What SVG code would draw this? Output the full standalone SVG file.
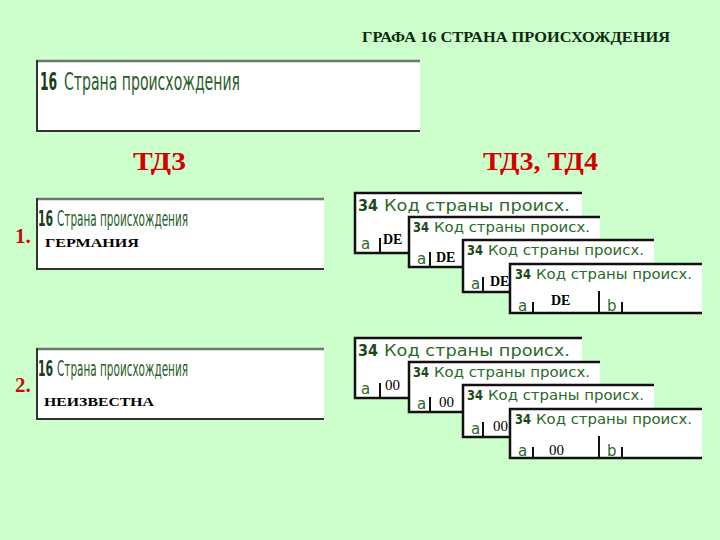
<svg xmlns="http://www.w3.org/2000/svg" width="720" height="540" viewBox="0 0 720 540">
<style>
.bg{fill:#ccffcc}
.title{font-family:"Liberation Serif",serif;font-weight:bold;font-size:14px;fill:#0a2a0a}
.td{font-family:"Liberation Serif",serif;font-weight:bold;font-size:26px;fill:#d40000}
.num{font-family:"Liberation Serif",serif;font-weight:bold;font-size:21px;fill:#c01010}
.lbl{font-family:"DejaVu Sans Condensed","Liberation Sans",sans-serif;fill:#2a5e2a}
.lblb{font-family:"DejaVu Sans Condensed","Liberation Sans",sans-serif;font-weight:bold;fill:#184018}
.val{font-family:"Liberation Serif",serif;font-weight:bold;font-size:13px;fill:#000}
.bigbox{fill:#fff}
.bord{fill:none;stroke:#333;stroke-width:2}
.topb{stroke:#6a7a6a;stroke-width:2.5}
.card{fill:#fff}
.cb{fill:none;stroke:#111;stroke-width:2.5}
.tick{stroke:#111;stroke-width:2}
.c34{font-family:"DejaVu Sans","Liberation Sans",sans-serif;fill:#2a6a2a}
.c34b{font-family:"DejaVu Sans","Liberation Sans",sans-serif;font-weight:bold;fill:#1a4a1a}
.ab{font-family:"DejaVu Sans","Liberation Sans",sans-serif;font-size:15px;fill:#2a6a2a}
.v2{font-family:"Liberation Serif",serif;font-weight:bold;font-size:14px;fill:#000}
.v0{font-family:"Liberation Serif",serif;font-size:15px;fill:#000}
</style>
<rect class="bg" x="0" y="0" width="720" height="540"/>
<text class="title" x="362" y="42" textLength="308" lengthAdjust="spacingAndGlyphs">ГРАФА 16 СТРАНА ПРОИСХОЖДЕНИЯ</text>

<g id="header-box">
<rect class="bigbox" x="37" y="60" width="383" height="71"/>
<line class="topb" x1="37" y1="61" x2="420" y2="61"/>
<path class="bord" d="M37,60 V131 H420"/>
<text class="lblb" x="0" y="0" font-size="25" transform="translate(40,90) scale(0.55,1)">16</text>
<text class="lbl" x="64" y="90" font-size="25" textLength="176" lengthAdjust="spacingAndGlyphs">Страна происхождения</text>
</g>

<text class="td" x="133" y="170" textLength="53" lengthAdjust="spacingAndGlyphs">ТД3</text>
<text class="td" x="483" y="170" textLength="115" lengthAdjust="spacingAndGlyphs">ТД3, ТД4</text>

<g id="row1-box">
<text class="num" x="15" y="243">1.</text>
<rect class="bigbox" x="37" y="198" width="287" height="71"/>
<line class="topb" x1="37" y1="199" x2="324" y2="199"/>
<path class="bord" d="M37,198 V269 H324"/>
<text class="lblb" x="0" y="0" font-size="22" transform="translate(38,226) scale(0.55,1)">16</text>
<text class="lbl" x="57" y="226" font-size="22" textLength="131" lengthAdjust="spacingAndGlyphs">Страна происхождения</text>
<text class="val" x="45" y="247" textLength="94" lengthAdjust="spacingAndGlyphs">ГЕРМАНИЯ</text>
</g>

<g id="row2-box">
<text class="num" x="15" y="392">2.</text>
<rect class="bigbox" x="37" y="348" width="287" height="71"/>
<line class="topb" x1="37" y1="349" x2="324" y2="349"/>
<path class="bord" d="M37,348 V419 H324"/>
<text class="lblb" x="0" y="0" font-size="22" transform="translate(38,376) scale(0.55,1)">16</text>
<text class="lbl" x="57" y="376" font-size="22" textLength="131" lengthAdjust="spacingAndGlyphs">Страна происхождения</text>
<text class="val" x="44" y="406" textLength="110" lengthAdjust="spacingAndGlyphs">НЕИЗВЕСТНА</text>
</g>

<g id="row1-cards">
<g id="r1-card1">
<rect class="card" x="355" y="193" width="227" height="60"/>
<path class="cb" d="M582,193 H355 V253 H582"/>
<text class="c34b" x="358" y="211" font-size="16" textLength="20" lengthAdjust="spacingAndGlyphs">34</text>
<text class="c34" x="384" y="211" font-size="16" textLength="186" lengthAdjust="spacingAndGlyphs">Код страны происх.</text>
<text class="ab" x="361" y="249">а</text>
<line class="tick" x1="380" y1="238" x2="380" y2="253"/>
<text class="v2" x="383" y="244">DE</text>
</g>
<g id="r1-card2">
<rect class="card" x="409" y="217" width="191" height="50"/>
<path class="cb" d="M600,217 H409 V267 H600"/>
<text class="c34b" x="413" y="232" font-size="14" textLength="16" lengthAdjust="spacingAndGlyphs">34</text>
<text class="c34" x="434" y="232" font-size="14" textLength="156" lengthAdjust="spacingAndGlyphs">Код страны происх.</text>
<text class="ab" x="417" y="264">а</text>
<line class="tick" x1="430" y1="252" x2="430" y2="267"/>
<text class="v2" x="436" y="262">DE</text>
</g>
<g id="r1-card3">
<rect class="card" x="463" y="240" width="191" height="52"/>
<path class="cb" d="M654,240 H463 V292 H654"/>
<text class="c34b" x="467" y="255" font-size="14" textLength="16" lengthAdjust="spacingAndGlyphs">34</text>
<text class="c34" x="488" y="255" font-size="14" textLength="156" lengthAdjust="spacingAndGlyphs">Код страны происх.</text>
<text class="ab" x="471" y="289">а</text>
<line class="tick" x1="483" y1="277" x2="483" y2="292"/>
<text class="v2" x="490" y="286">DE</text>
</g>
<g id="r1-card4">
<rect class="card" x="510" y="264" width="192" height="49"/>
<path class="cb" d="M702,264 H510 V313 H702"/>
<text class="c34b" x="515" y="279" font-size="14" textLength="16" lengthAdjust="spacingAndGlyphs">34</text>
<text class="c34" x="536" y="279" font-size="14" textLength="156" lengthAdjust="spacingAndGlyphs">Код страны происх.</text>
<text class="ab" x="518" y="311">а</text>
<line class="tick" x1="533" y1="302" x2="533" y2="313"/>
<line class="tick" x1="599" y1="291" x2="599" y2="313"/>
<text class="ab" x="607" y="311">b</text>
<line class="tick" x1="622" y1="302" x2="622" y2="313"/>
<text class="v2" x="551" y="305">DE</text>
</g>
</g>

<g id="row2-cards">
<g id="r2-card1">
<rect class="card" x="355" y="338" width="227" height="60"/>
<path class="cb" d="M582,338 H355 V398 H582"/>
<text class="c34b" x="358" y="356" font-size="16" textLength="20" lengthAdjust="spacingAndGlyphs">34</text>
<text class="c34" x="384" y="356" font-size="16" textLength="186" lengthAdjust="spacingAndGlyphs">Код страны происх.</text>
<text class="ab" x="361" y="394">а</text>
<line class="tick" x1="380" y1="383" x2="380" y2="398"/>
<text class="v0" x="385" y="390" textLength="15" lengthAdjust="spacingAndGlyphs">00</text>
</g>
<g id="r2-card2">
<rect class="card" x="409" y="362" width="191" height="50"/>
<path class="cb" d="M600,362 H409 V412 H600"/>
<text class="c34b" x="413" y="377" font-size="14" textLength="16" lengthAdjust="spacingAndGlyphs">34</text>
<text class="c34" x="434" y="377" font-size="14" textLength="156" lengthAdjust="spacingAndGlyphs">Код страны происх.</text>
<text class="ab" x="417" y="409">а</text>
<line class="tick" x1="430" y1="397" x2="430" y2="412"/>
<text class="v0" x="439" y="407" textLength="15" lengthAdjust="spacingAndGlyphs">00</text>
</g>
<g id="r2-card3">
<rect class="card" x="463" y="385" width="191" height="52"/>
<path class="cb" d="M654,385 H463 V437 H654"/>
<text class="c34b" x="467" y="400" font-size="14" textLength="16" lengthAdjust="spacingAndGlyphs">34</text>
<text class="c34" x="488" y="400" font-size="14" textLength="156" lengthAdjust="spacingAndGlyphs">Код страны происх.</text>
<text class="ab" x="471" y="434">а</text>
<line class="tick" x1="483" y1="422" x2="483" y2="437"/>
<text class="v0" x="493" y="431" textLength="15" lengthAdjust="spacingAndGlyphs">00</text>
</g>
<g id="r2-card4">
<rect class="card" x="510" y="409" width="192" height="49"/>
<path class="cb" d="M702,409 H510 V458 H702"/>
<text class="c34b" x="515" y="424" font-size="14" textLength="16" lengthAdjust="spacingAndGlyphs">34</text>
<text class="c34" x="536" y="424" font-size="14" textLength="156" lengthAdjust="spacingAndGlyphs">Код страны происх.</text>
<text class="ab" x="518" y="456">а</text>
<line class="tick" x1="533" y1="447" x2="533" y2="458"/>
<line class="tick" x1="599" y1="436" x2="599" y2="458"/>
<text class="ab" x="607" y="456">b</text>
<line class="tick" x1="622" y1="447" x2="622" y2="458"/>
<text class="v0" x="549" y="455" textLength="15" lengthAdjust="spacingAndGlyphs">00</text>
</g>
</g>
</svg>
